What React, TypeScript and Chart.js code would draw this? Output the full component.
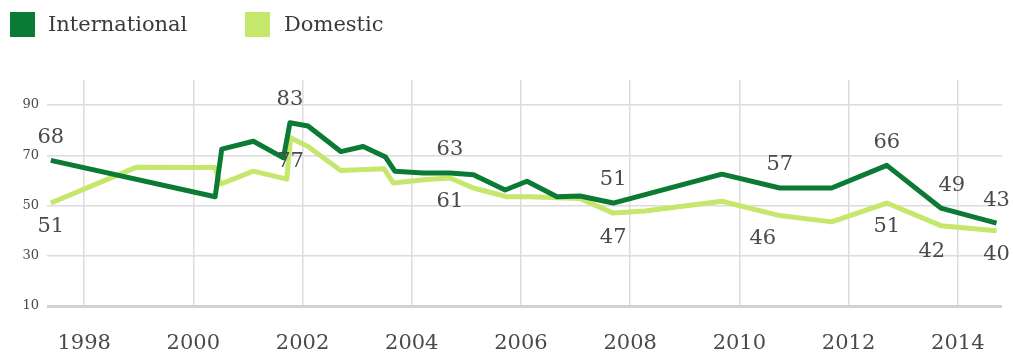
import React, { useEffect, useRef } from 'react';
import { Chart, registerables } from 'chart.js';

Chart.register(...registerables);

// ---- data ----
const seriesNames = ['International', 'Domestic'];

const intlDates = [
  1997.39, 2000.4, 2000.52, 2001.1, 2001.65, 2001.77, 2002.1, 2002.7, 2003.11, 2003.52,
  2003.69, 2004.21, 2004.7, 2005.13, 2005.71, 2006.11, 2006.66, 2007.08, 2007.69, 2009.68,
  2010.74, 2011.69, 2012.7, 2013.69, 2014.71,
];
const intlValues = [
  68, 53.5, 72.5, 75.6, 69, 83, 81.7, 71.5, 73.5, 69.3,
  63.7, 63, 63, 62.3, 56.2, 59.7, 53.5, 53.8, 51, 62.5,
  57, 57, 66, 49, 43,
];
const intlLabeled = [0, 5, 12, 18, 20, 22, 23, 24];

const domDates = [
  1997.39, 1998.96, 2000.4, 2000.49, 2001.1, 2001.71, 2001.78, 2002.1, 2002.7, 2003.49,
  2003.66, 2004.27, 2004.7, 2005.13, 2005.74, 2006.17, 2007.08, 2007.69, 2008.27, 2009.68,
  2010.74, 2011.69, 2012.7, 2013.69, 2014.71,
];
const domValues = [
  51, 65.3, 65.2, 58.5, 63.7, 60.5, 77, 73.5, 64, 64.7,
  59, 60.4, 61, 57, 53.5, 53.5, 52.8, 47, 47.8, 51.7,
  46, 43.5, 51, 42, 40,
];
const domLabeled = [0, 6, 12, 17, 20, 22, 23, 24];

const xTicks = [1998, 2000, 2002, 2004, 2006, 2008, 2010, 2012, 2014];
const yTicks = [10, 30, 50, 70, 90];

// ---- style ----
const DARK = '#0b7a34';
const LIGHT = '#c4e76c';
const TEXT = '#4a4a4a';
const GRID = '#dcdcdc';
const FONT = '"DejaVu Serif", "Liberation Serif", serif';
// label nudges (dx, dy) per series, keyed by point index
const intlNudge: Record<number, [number, number]> = { 23: [11, -23] };
const domNudge: Record<number, [number, number]> = { 20: [-17, 23], 23: [-9, 26] };

const labelPlugin = {
  id: 'pointLabels',
  afterDatasetsDraw(chart: any) {
    const ctx = chart.ctx;
    ctx.save();
    ctx.font = `21px ${FONT}`;
    ctx.fillStyle = TEXT;
    ctx.textAlign = 'center';
    ctx.textBaseline = 'middle';
    const sets: Array<[number, number[], number[], Record<number, [number, number]>, number]> = [
      [0, intlLabeled, intlValues, intlNudge, -23],
      [1, domLabeled, domValues, domNudge, 24],
    ];
    sets.forEach(([dsIndex, idxs, vals, nudge, dyDefault]) => {
      const meta = chart.getDatasetMeta(dsIndex);
      idxs.forEach((i) => {
        const el = meta.data[i];
        if (!el) return;
        const [dx, dy] = nudge[i] || [0, dyDefault];
        ctx.fillText(String(Math.round(vals[i])), el.x + dx, el.y + dy);
      });
    });
    ctx.restore();
  },
};

export default function App() {
  const canvasRef = useRef<HTMLCanvasElement | null>(null);

  useEffect(() => {
    document.body.style.margin = '0';
    const canvas = canvasRef.current;
    if (!canvas) return;
    const chart = new Chart(canvas, {
      type: 'line',
      data: {
        datasets: [
          {
            label: seriesNames[0],
            data: intlDates.map((d, i) => ({ x: d, y: intlValues[i] })),
            borderColor: DARK,
            backgroundColor: DARK,
            borderWidth: 5,
            pointRadius: 0,
            tension: 0,
            borderJoinStyle: 'round',
          },
          {
            label: seriesNames[1],
            data: domDates.map((d, i) => ({ x: d, y: domValues[i] })),
            borderColor: LIGHT,
            backgroundColor: LIGHT,
            borderWidth: 5,
            pointRadius: 0,
            tension: 0,
            borderJoinStyle: 'round',
          },
        ],
      },
      options: {
        animation: false,
        responsive: false,
        devicePixelRatio: 1,
        layout: { padding: { top: 80, right: 11, left: 0, bottom: 0 } },
        plugins: { legend: { display: false }, tooltip: { enabled: false } },
        scales: {
          x: {
            type: 'linear',
            min: 1997.32,
            max: 2014.81,
            afterBuildTicks: (scale: any) => {
              scale.ticks = xTicks.map((v) => ({ value: v }));
            },
            afterFit: (scale: any) => {
              scale.height = 48;
            },
            border: { display: false },
            grid: { color: GRID, lineWidth: 1.5, drawTicks: false },
            ticks: {
              padding: 25,
              color: TEXT,
              font: { family: FONT, size: 21 },
              maxRotation: 0,
              autoSkip: false,
              callback: (v: any) => String(v),
            },
          },
          y: {
            type: 'linear',
            min: 10,
            max: 100,
            afterBuildTicks: (scale: any) => {
              scale.ticks = yTicks.map((v) => ({ value: v }));
            },
            afterFit: (scale: any) => {
              scale.width = 47;
            },
            border: { display: false },
            grid: {
              color: (c: any) => (c.tick && c.tick.value === 10 ? '#d2d2d2' : GRID),
              lineWidth: (c: any) => (c.tick && c.tick.value === 10 ? 3 : 1.5),
              drawTicks: false,
            },
            ticks: {
              padding: 8,
              color: TEXT,
              font: { family: FONT, size: 13 },
              callback: (v: any) => String(v),
            },
          },
        },
      },
      plugins: [labelPlugin],
    } as any);
    return () => chart.destroy();
  }, []);

  const legendText: React.CSSProperties = {
    position: 'absolute',
    top: 11,
    fontFamily: FONT,
    fontSize: 21,
    lineHeight: '26px',
    color: '#3a3a3a',
    whiteSpace: 'nowrap',
  };
  const square = (left: number, color: string): React.CSSProperties => ({
    position: 'absolute',
    left,
    top: 12,
    width: 25,
    height: 25,
    background: color,
  });

  return (
    <div style={{ position: 'relative', width: 1013, height: 354, background: '#fff' }}>
      <canvas ref={canvasRef} width={1013} height={354} style={{ position: 'absolute', left: 0, top: 0 }} />
      <div style={square(10, DARK)} />
      <div style={{ ...legendText, left: 48 }}>{seriesNames[0]}</div>
      <div style={square(245, LIGHT)} />
      <div style={{ ...legendText, left: 284 }}>{seriesNames[1]}</div>
    </div>
  );
}
